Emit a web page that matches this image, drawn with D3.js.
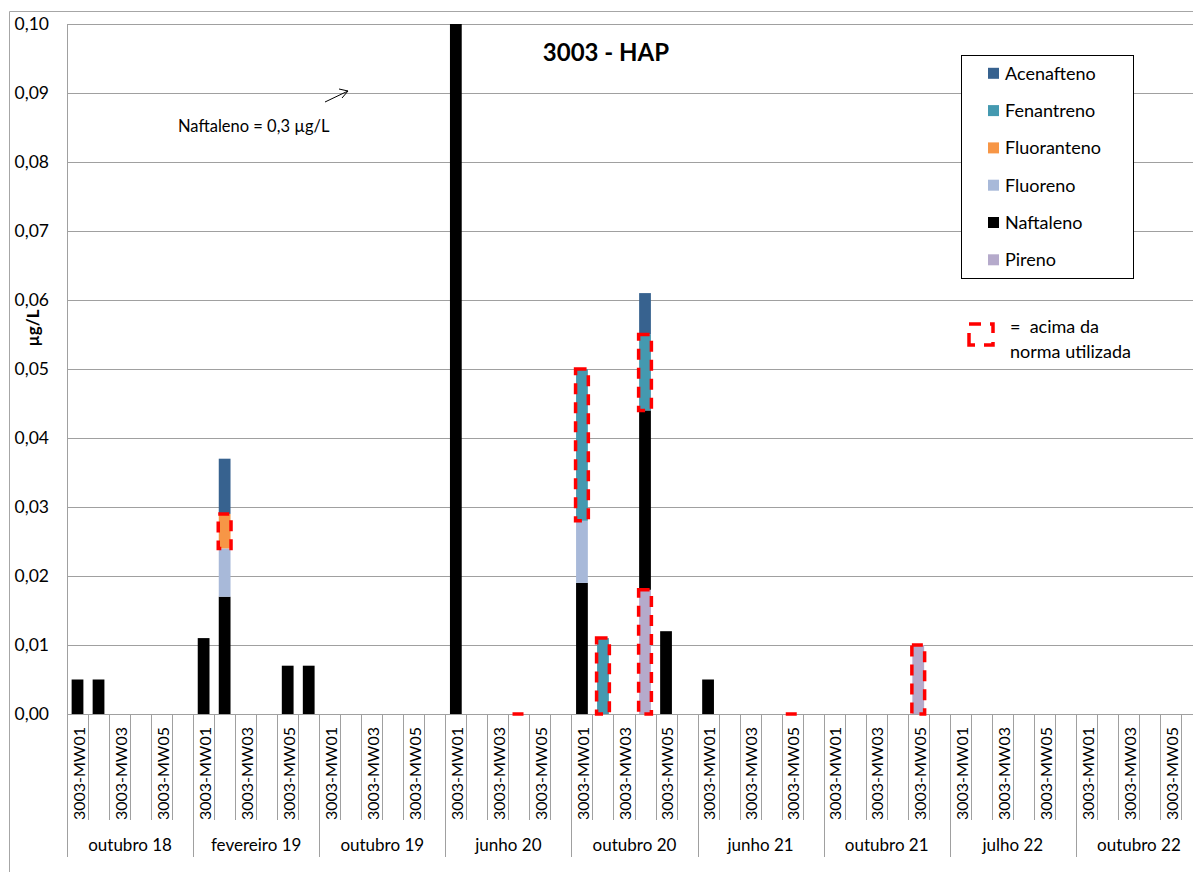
<!DOCTYPE html>
<html>
<head>
<meta charset="utf-8">
<script src="https://cdn.jsdelivr.net/npm/d3@7"></script>
<style>
  html, body { margin: 0; padding: 0; background: #fff; }
  svg { display: block; font-family: Lato, "Open Sans", sans-serif; }
</style>
</head>
<body>
<svg id="chart" width="1193" height="872"></svg>
<script>
// ---- data ----
const groups = ["outubro 18","fevereiro 19","outubro 19","junho 20","outubro 20","junho 21","outubro 21","julho 22","outubro 22"];
const wells = ["3003-MW01","3003-MW02","3003-MW03","3003-MW04","3003-MW05","3003-MW06"];
const seriesNames = ["Pireno","Naftaleno","Fluoreno","Fluoranteno","Fenantreno","Acenafteno"]; // stack order bottom -> top
const legendOrder = ["Acenafteno","Fenantreno","Fluoranteno","Fluoreno","Naftaleno","Pireno"];
const seriesColors = ["#B5AACB","#000000","#A8B9D9","#F79646","#4499B0","#37628F"];

// values per series, 6 wells per campaign (µg/L)
const Pireno = [
  0,0,0,0,0,0,  0,0,0,0,0,0,  0,0,0,0,0,0,  0,0,0,0,0,0,  0,0,0,0.018,0,0,
  0,0,0,0,0,0,  0,0,0,0,0.010,0,  0,0,0,0,0,0,  0,0,0,0,0,0];
const Naftaleno = [
  0.005,0.005,0,0,0,0,  0.011,0.017,0,0,0.007,0.007,  0,0,0,0,0,0,  0.3,0,0,0,0,0,  0.019,0,0,0.026,0.012,0,
  0.005,0,0,0,0,0,  0,0,0,0,0,0,  0,0,0,0,0,0,  0,0,0,0,0,0];
const Fluoreno = [
  0,0,0,0,0,0,  0,0.007,0,0,0,0,  0,0,0,0,0,0,  0,0,0,0,0,0,  0.009,0,0,0,0,0,
  0,0,0,0,0,0,  0,0,0,0,0,0,  0,0,0,0,0,0,  0,0,0,0,0,0];
const Fluoranteno = [
  0,0,0,0,0,0,  0,0.005,0,0,0,0,  0,0,0,0,0,0,  0,0,0,0,0,0,  0,0,0,0,0,0,
  0,0,0,0,0,0,  0,0,0,0,0,0,  0,0,0,0,0,0,  0,0,0,0,0,0];
const Fenantreno = [
  0,0,0,0,0,0,  0,0,0,0,0,0,  0,0,0,0,0,0,  0,0,0,0,0,0,  0.022,0.011,0,0.011,0,0,
  0,0,0,0,0,0,  0,0,0,0,0,0,  0,0,0,0,0,0,  0,0,0,0,0,0];
const Acenafteno = [
  0,0,0,0,0,0,  0,0.008,0,0,0,0,  0,0,0,0,0,0,  0,0,0,0,0,0,  0,0,0,0.006,0,0,
  0,0,0,0,0,0,  0,0,0,0,0,0,  0,0,0,0,0,0,  0,0,0,0,0,0];

// segments above the norm (campaign index, well index, series)
const flagGroup  = [1, 3, 4, 4, 4, 4, 5, 6];
const flagWell   = [1, 3, 0, 1, 3, 3, 4, 4];
const flagSeries = ["Fluoranteno","Pireno","Fenantreno","Fenantreno","Pireno","Fenantreno","Pireno","Pireno"];

const yTicks = [0,0.01,0.02,0.03,0.04,0.05,0.06,0.07,0.08,0.09,0.10];

// ---- build ----
const seriesValues = {Pireno, Naftaleno, Fluoreno, Fluoranteno, Fenantreno, Acenafteno};
const rows = [];
groups.forEach((g, gi) => wells.forEach((w, wi) => {
  const r = {key: gi + "|" + wi, g: gi, w: wi};
  seriesNames.forEach(s => r[s] = seriesValues[s][gi * wells.length + wi]);
  rows.push(r);
}));

const svg = d3.select("#chart");
const W = 1193, H = 872;
const pLeft = 67, pRight = 1202, pTop = 24, pBottom = 714;

const x = d3.scaleBand().domain(rows.map(r => r.key)).range([pLeft, pRight]).paddingInner(0).paddingOuter(0);
const bw = x.bandwidth() * 0.56;
const y = d3.scaleLinear().domain([0, 0.1]).range([pBottom, pTop]).clamp(true);
const color = d3.scaleOrdinal().domain(seriesNames).range(seriesColors);
const fmt = v => d3.format(".2f")(v).replace(".", ",");

// outer chart border
svg.append("path").attr("d", `M9.5,${H} V11.5 H${W}`).attr("fill","none").attr("stroke","#A6A6A6").attr("stroke-width",1);

// gridlines
svg.append("g").selectAll("line").data(yTicks).join("line")
  .attr("x1", pLeft).attr("x2", W).attr("y1", d => Math.round(y(d)) + 0.5).attr("y2", d => Math.round(y(d)) + 0.5)
  .attr("stroke", "#A0A0A0").attr("stroke-width", 1);

// y axis line
svg.append("line").attr("x1", pLeft + 0.5).attr("x2", pLeft + 0.5).attr("y1", pTop).attr("y2", pBottom)
  .attr("stroke", "#A0A0A0");

// y tick labels
svg.append("g").selectAll("text").data(yTicks).join("text")
  .attr("x", 49).attr("y", d => y(d)).attr("dy", "0.35em").attr("text-anchor", "end")
  .attr("font-size", 17.5).attr("fill", "#000").text(fmt);

// y title
svg.append("text").attr("transform", "translate(39,328) rotate(-90)").attr("text-anchor","middle")
  .attr("font-size", 17).attr("font-weight", "bold").text("µg/L");

// category ticks
const step = x.step();
svg.append("g").selectAll("line").data(rows).join("line")
  .attr("x1", d => Math.round(x(d.key)) + 0.5).attr("x2", d => Math.round(x(d.key)) + 0.5)
  .attr("y1", pBottom).attr("y2", d => d.w === 0 ? 857 : 820)
  .attr("stroke", "#A0A0A0");

// well labels (every other shown)
svg.append("g").selectAll("text").data(rows.filter(r => r.w % 2 === 0)).join("text")
  .attr("transform", d => `translate(${x(d.key) + step / 2 + 1.5},727) rotate(-90)`)
  .attr("text-anchor", "end").attr("dy", "0.36em").attr("font-size", 16).attr("fill", "#000")
  .text(d => wells[d.w]);

// group labels
svg.append("g").selectAll("text").data(groups).join("text")
  .attr("x", (d, i) => x(i + "|0") + step * wells.length / 2).attr("y", 845).attr("dy", "0.35em")
  .attr("text-anchor", "middle").attr("font-size", 17).attr("fill", "#000").text(d => d);

// stacked bars
const stacked = d3.stack().keys(seriesNames)(rows);
svg.append("g").selectAll("g").data(stacked).join("g").attr("fill", d => color(d.key))
  .selectAll("rect").data(d => d).join("rect")
  .attr("x", d => x(d.data.key) + (step - bw) / 2)
  .attr("width", bw)
  .attr("y", d => y(d[1]))
  .attr("height", d => Math.max(0, y(d[0]) - y(d[1])));

// flagged segments
const flags = flagGroup.map((g, i) => {
  const key = g + "|" + flagWell[i];
  const layer = stacked.find(s => s.key === flagSeries[i]);
  const seg = layer.find(d => d.data.key === key);
  return {key, y0: seg[0], y1: seg[1]};
});
svg.append("g").selectAll("path").data(flags).join("path")
  .attr("d", d => {
    const x0 = x(d.key) + (step - bw) / 2 - 0.5, x1 = x0 + bw + 1;
    return `M${x0},${y(d.y1)} H${x1} V${y(d.y0)} H${x0} Z`;
  })
  .attr("fill", "none").attr("stroke", "#FF0000").attr("stroke-width", 3.5)
  .attr("stroke-dasharray", "11,8");

// title
svg.append("text").attr("x", 606).attr("y", 53).attr("dy", "0.35em").attr("text-anchor","middle")
  .attr("font-size", 24).attr("font-weight","bold").text("3003 - HAP");

// annotation
svg.append("text").attr("x", 178).attr("y", 126).attr("dy","0.35em").attr("font-size", 16.5).text("Naftaleno = 0,3 µg/L");
svg.append("line").attr("x1", 325).attr("y1", 102).attr("x2", 348).attr("y2", 91).attr("stroke","#000").attr("stroke-width",1);
svg.append("path").attr("d", "M339,89 L348,91 L342,98").attr("fill","none").attr("stroke","#000").attr("stroke-width",1);

// legend
const lg = svg.append("g");
lg.append("rect").attr("x", 961.5).attr("y", 55.5).attr("width", 172).attr("height", 223)
  .attr("fill","#fff").attr("stroke","#000").attr("stroke-width",1);
legendOrder.forEach((s, i) => {
  const cy = 73.3 + i * 37.3;
  lg.append("rect").attr("x", 988).attr("y", cy - 5.5).attr("width", 11).attr("height", 11).attr("fill", color(s));
  lg.append("text").attr("x", 1005).attr("y", cy).attr("dy","0.35em").attr("font-size", 18).text(s);
});

// norm legend
svg.append("path").attr("d", "M969,345 V324 H993 V345 Z")
  .attr("fill","none").attr("stroke","#FF0000").attr("stroke-width",3.5).attr("stroke-dasharray","12,9").attr("stroke-dashoffset", 0);
svg.append("text").attr("x", 1010).attr("y", 327).attr("dy","0.35em").attr("font-size", 18).attr("xml:space","preserve").text("=  acima da");
svg.append("text").attr("x", 1010).attr("y", 352).attr("dy","0.35em").attr("font-size", 18).text("norma utilizada");
</script>
</body>
</html>
